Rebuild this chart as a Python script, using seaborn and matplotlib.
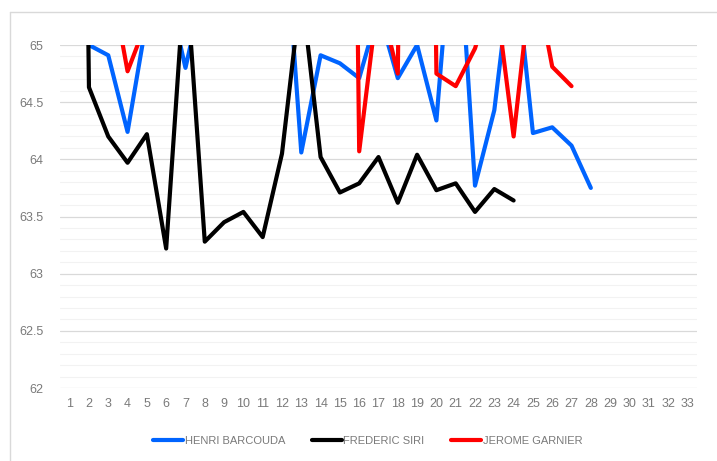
import numpy as np
import pandas as pd
import matplotlib
matplotlib.use("Agg")
import matplotlib.pyplot as plt
from matplotlib.ticker import MultipleLocator
from matplotlib.lines import Line2D
import seaborn as sns

nan = np.nan
x_values = list(range(1, 34))
series_names = ["HENRI BARCOUDA", "FREDERIC SIRI", "JEROME GARNIER"]
henri = [nan, 65.0, 64.91, 64.24, 65.23, 65.55, 64.80, 65.55, 65.6, 65.7, 65.8, 66.4,
         64.06, 64.91, 64.84, 64.71, 65.3, 64.71, 65.0, 64.34, 66.4, 63.77, 64.43,
         65.83, 64.23, 64.28, 64.12, 63.75, nan, nan, nan, nan, nan]
frederic = [78.0, 64.63, 64.2, 63.97, 64.22, 63.22, 65.7, 63.28, 63.45, 63.54, 63.32,
            64.05, 65.5, 64.02, 63.71, 63.79, 64.02, 63.62, 64.04, 63.73, 63.79, 63.54,
            63.74, 63.64, nan, nan, nan, nan, nan, nan, nan, nan, nan]
jerome = [66.0, 66.2, 65.7, 64.77, 65.21, 65.6, 65.8, 66.0, 66.2, 66.0, 65.8, 66.0,
          66.5, 68.0, 78.0, 64.07, 65.45, 64.75, 78.0, 64.75, 64.64, 64.97, 65.53,
          64.2, 65.7, 64.81, 64.64, nan, nan, nan, nan, nan, nan]
colors = ["#0064FF", "#000000", "#FF0000"]

rows = []
for name, vals in zip(series_names, [henri, frederic, jerome]):
    for xv, yv in zip(x_values, vals):
        if not np.isnan(yv):
            rows.append({"x": xv, "y": yv, "series": name})
df = pd.DataFrame(rows)

sns.set_style("white")
plt.rcParams["font.family"] = ["Liberation Sans", "DejaVu Sans"]

fig = plt.figure(figsize=(7.17, 4.61), dpi=100)
ax = fig.add_axes([60 / 717, 1 - 388 / 461, 637 / 717, 343 / 461])

sns.lineplot(data=df, x="x", y="y", hue="series", hue_order=series_names,
             palette=colors, linewidth=3.0, ax=ax, legend=False, sort=False,
             solid_joinstyle="round", solid_capstyle="round", estimator=None)

ax.set_xlim(0.5, 33.5)
ax.set_ylim(62, 65)
ax.set_xticks(x_values)
ax.set_xticklabels([str(v) for v in x_values])
ax.yaxis.set_major_locator(MultipleLocator(0.5))
ax.yaxis.set_minor_locator(MultipleLocator(0.1))
ax.set_yticks([62, 62.5, 63, 63.5, 64, 64.5, 65])
ax.set_yticklabels(["62", "62.5", "63", "63.5", "64", "64.5", "65"])
ax.grid(False)
ax.grid(True, axis="y", which="minor", color="#F2F2F2", linewidth=0.8, zorder=0)
ax.grid(True, axis="y", which="major", color="#D9D9D9", linewidth=0.9, zorder=0)
ax.set_axisbelow(True)
for s in ax.spines.values():
    s.set_visible(False)
ax.tick_params(axis="both", which="both", length=0, labelsize=9, labelcolor="#7a7a7a")
ax.tick_params(axis="y", pad=12)
ax.tick_params(axis="x", pad=7)
ax.set_xlabel("")
ax.set_ylabel("")

handles = [Line2D([0], [0], color=c, lw=3.0, solid_capstyle="round") for c in colors]
fig.legend(handles, series_names, loc="center", bbox_to_anchor=(0.513, 1 - 441 / 461),
           ncol=3, frameon=False, fontsize=8, labelcolor="#7a7a7a",
           handlelength=2.7, handletextpad=0.15, columnspacing=2.4)

fig.add_artist(Line2D([10 / 717, 10 / 717], [0, 1 - 12 / 461], color="#D9D9D9", lw=1.0,
                      transform=fig.transFigure))
fig.add_artist(Line2D([10 / 717, 1], [1 - 12 / 461, 1 - 12 / 461], color="#D9D9D9", lw=1.0,
                      transform=fig.transFigure))

fig.savefig("out.png", dpi=100)
